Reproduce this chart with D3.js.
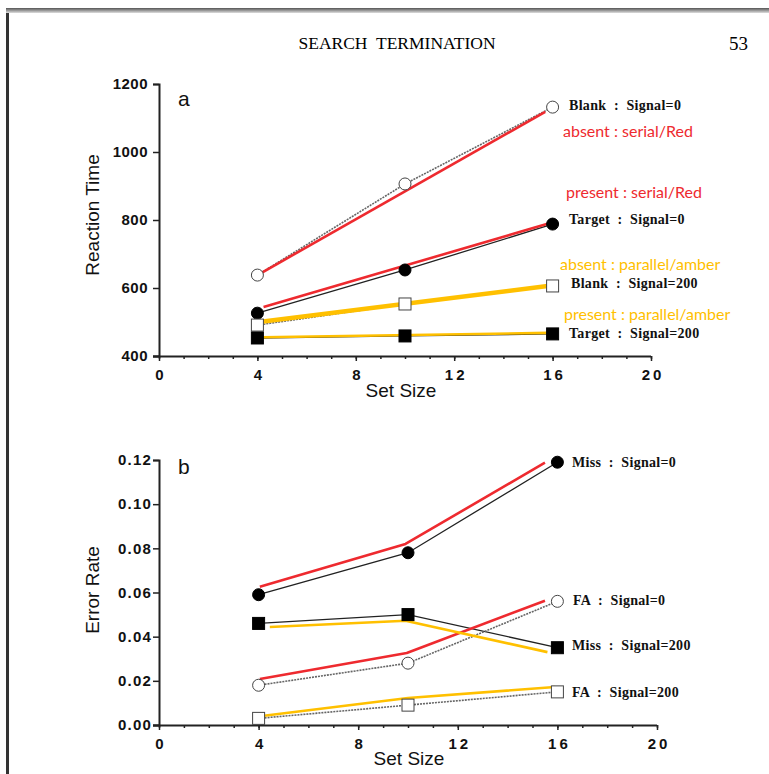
<!DOCTYPE html>
<html>
<head>
<meta charset="utf-8">
<script src="https://cdn.jsdelivr.net/npm/d3@7"></script>
<style>
  html, body { margin: 0; padding: 0; background: #fff; }
  svg { display: block; }
  text { white-space: pre; }
</style>
</head>
<body>
<svg id="chart" width="769" height="774"></svg>
<script>
// ---------- DATA ----------
const setSizes = [4, 10, 16];
const xTicks = [0, 4, 8, 12, 16, 20];

// Panel a: reaction time
const rtTicks = [400, 600, 800, 1000, 1200];
const rtBlank0 = [638, 906, 1132];
const rtTarget0 = [526, 653, 788];
const rtBlank200 = [491, 553, 606];
const rtTarget200 = [453, 459, 465];

// Panel a: hand-drawn model overlays
const rtSerialAbsentX = [4.15, 15.7], rtSerialAbsentY = [644, 1118];
const rtSerialPresentX = [4.25, 15.9], rtSerialPresentY = [544, 791];
const rtParallelAbsentX = [4.07, 15.8], rtParallelAbsentY = [500, 606];
const rtParallelPresentX = [4.2, 15.8], rtParallelPresentY = [455, 468];

// Panel b: error rate
const erTicks = [0.00, 0.02, 0.04, 0.06, 0.08, 0.10, 0.12];
const erMiss0 = [0.059, 0.078, 0.119];
const erMiss200 = [0.046, 0.050, 0.035];
const erFA0 = [0.018, 0.028, 0.056];
const erFA200 = [0.003, 0.009, 0.015];

// Panel b: hand-drawn model overlays
const erSerialMissX = [4.05, 9.9, 15.5], erSerialMissY = [0.0626, 0.082, 0.1188];
const erSerialFAX = [4.05, 9.95, 15.5], erSerialFAY = [0.0208, 0.0326, 0.0563];
const erParallelMissX = [4.45, 9.9, 15.6], erParallelMissY = [0.0444, 0.0472, 0.033];
const erParallelFAX = [4.05, 10.0, 15.9], erParallelFAY = [0.004, 0.0122, 0.0172];

// Labels
const rtLabels = ["Blank  :  Signal=0", "Target  :  Signal=0", "Blank  :  Signal=200", "Target  :  Signal=200"];
const rtNotes = ["absent : serial/Red", "present : serial/Red", "absent : parallel/amber", "present : parallel/amber"];
const erLabels = ["Miss  :  Signal=0", "FA  :  Signal=0", "Miss  :  Signal=200", "FA  :  Signal=200"];

// ---------- DRAW ----------
const svg = d3.select("#chart");
const RED = "#ee2a2f", AMBER = "#ffc000";

// page frame
svg.append("rect").attr("x", 6).attr("y", 8).attr("width", 3).attr("height", 766).attr("fill", "#333");
const grad = svg.append("defs").append("linearGradient").attr("id", "topg").attr("x1", 0).attr("y1", 0).attr("x2", 0).attr("y2", 1);
grad.append("stop").attr("offset", "0%").attr("stop-color", "#555");
grad.append("stop").attr("offset", "100%").attr("stop-color", "#ddd");
svg.append("rect").attr("x", 6).attr("y", 8).attr("width", 763).attr("height", 5).attr("fill", "url(#topg)");

svg.append("text").attr("x", 397).attr("y", 49).attr("text-anchor", "middle")
  .attr("font-family", "Liberation Serif, Times New Roman, serif").attr("font-size", 17.5)
  .text("SEARCH  TERMINATION");
svg.append("text").attr("x", 748).attr("y", 50).attr("text-anchor", "end")
  .attr("font-family", "Liberation Serif, Times New Roman, serif").attr("font-size", 19)
  .text("53");

function panel(cfg) {
  const g = svg.append("g");
  const x = d3.scaleLinear().domain([0, 20]).range([159, cfg.xEnd]);
  const y = d3.scaleLinear().domain(cfg.yDomain).range(cfg.yRange);

  // axes
  const xAxis = g.append("g").attr("transform", `translate(0,${cfg.yRange[0]})`)
    .call(d3.axisBottom(x).tickValues(xTicks).tickSize(5).tickFormat(d3.format("d")));
  const xMinor = g.append("g").attr("transform", `translate(0,${cfg.yRange[0]})`)
    .call(d3.axisBottom(x).tickValues(d3.range(0, 21)).tickSize(3).tickFormat(""));
  const yAxis = g.append("g").attr("transform", `translate(159,0)`)
    .call(d3.axisLeft(y).tickValues(cfg.yTicks).tickSize(6).tickFormat(cfg.yFmt));
  [xAxis, xMinor, yAxis].forEach(a => {
    a.select(".domain").attr("stroke", "#222").attr("stroke-width", 2);
    a.selectAll(".tick line").attr("stroke", "#222").attr("stroke-width", 1.5);
  });
  xMinor.select(".domain").remove();
  xAxis.select(".domain").attr("d", `M153,0.5H${cfg.xEnd}`);
  xAxis.selectAll(".tick text").attr("font-family", "Liberation Sans, Arial, sans-serif")
    .attr("font-weight", "bold").attr("font-size", 15).attr("letter-spacing", "3px")
    .attr("fill", "#111").attr("dx", "1.5px").attr("y", cfg.xLabelDy);
  yAxis.selectAll(".tick text").attr("font-family", "Liberation Sans, Arial, sans-serif")
    .attr("font-weight", "bold").attr("font-size", 15).attr("letter-spacing", cfg.yLs)
    .attr("fill", "#111").attr("x", cfg.yLabelX);

  // axis titles
  g.append("text").attr("x", cfg.xTitleX).attr("y", cfg.xTitleY).attr("text-anchor", "middle")
    .attr("font-family", "Liberation Sans, Arial, sans-serif").attr("font-size", 19).attr("fill", "#111")
    .text("Set Size");
  g.append("text").attr("transform", `translate(99,${cfg.yTitleY}) rotate(-90)`).attr("text-anchor", "middle")
    .attr("font-family", "Liberation Sans, Arial, sans-serif").attr("font-size", 19).attr("fill", "#111")
    .text(cfg.yTitle);
  g.append("text").attr("x", 178).attr("y", cfg.letterY)
    .attr("font-family", "Liberation Sans, Arial, sans-serif").attr("font-size", 21).attr("fill", "#111")
    .text(cfg.letter);

  const line = d3.line().x(d => x(d[0])).y(d => y(d[1]));

  // data lines
  cfg.series.forEach(s => {
    g.append("path").datum(setSizes.map((v, i) => [v, s.values[i]]))
      .attr("d", line).attr("fill", "none")
      .attr("stroke", s.open ? "#666" : "#222")
      .attr("stroke-width", s.open ? 1.6 : 1.3)
      .attr("stroke-dasharray", s.open ? "2,1" : null);
  });

  // overlays
  cfg.overlays.forEach(o => {
    g.append("path").datum(o.xs.map((v, i) => [v, o.ys[i]]))
      .attr("d", line).attr("fill", "none").attr("stroke", o.color)
      .attr("stroke-width", o.w).attr("stroke-linejoin", "round");
  });

  // markers
  cfg.series.forEach(s => {
    setSizes.forEach((v, i) => {
      const cx = x(v), cy = y(s.values[i]);
      if (s.shape === "circle") {
        g.append("circle").attr("cx", cx).attr("cy", cy).attr("r", 6)
          .attr("fill", s.open ? "#fff" : "#000").attr("stroke", s.open ? "#444" : "#000").attr("stroke-width", 1);
      } else {
        g.append("rect").attr("x", cx - 6).attr("y", cy - 6).attr("width", 12).attr("height", 12)
          .attr("fill", s.open ? "#fff" : "#000").attr("stroke", s.open ? "#444" : "#000").attr("stroke-width", 1);
      }
    });
  });

  // series labels
  cfg.labels.forEach(l => {
    g.append("text").attr("x", l.x).attr("y", l.y)
      .attr("font-family", "Liberation Serif, Times New Roman, serif").attr("font-weight", "bold")
      .attr("font-size", 14).attr("letter-spacing", "0.3px").attr("fill", "#111").text(l.t);
  });
  (cfg.notes || []).forEach(n => {
    g.append("text").attr("x", n.x).attr("y", n.y)
      .attr("font-family", "Lato, Open Sans, sans-serif")
      .attr("font-size", 16).attr("fill", n.c).text(n.t);
  });
}

panel({
  xEnd: 651, yDomain: [400, 1200], yRange: [356, 84], yTicks: rtTicks, yFmt: d3.format("d"),
  yLs: "0.5px", yLabelX: -11, xLabelDy: 13,
  xTitleX: 401, xTitleY: 397, yTitle: "Reaction Time", yTitleY: 215, letter: "a", letterY: 106,
  series: [
    { values: rtBlank0, shape: "circle", open: true },
    { values: rtTarget0, shape: "circle", open: false },
    { values: rtBlank200, shape: "square", open: true },
    { values: rtTarget200, shape: "square", open: false }
  ],
  overlays: [
    { xs: rtSerialAbsentX, ys: rtSerialAbsentY, color: RED, w: 2.6 },
    { xs: rtSerialPresentX, ys: rtSerialPresentY, color: RED, w: 2.6 },
    { xs: rtParallelAbsentX, ys: rtParallelAbsentY, color: AMBER, w: 4.5 },
    { xs: rtParallelPresentX, ys: rtParallelPresentY, color: AMBER, w: 2.6 }
  ],
  labels: [
    { x: 569, y: 110, t: rtLabels[0] },
    { x: 569, y: 224, t: rtLabels[1] },
    { x: 571, y: 288, t: rtLabels[2] },
    { x: 569, y: 338, t: rtLabels[3] }
  ],
  notes: [
    { x: 563, y: 137, t: rtNotes[0], c: RED },
    { x: 566, y: 198, t: rtNotes[1], c: RED },
    { x: 560, y: 270, t: rtNotes[2], c: AMBER },
    { x: 564, y: 320, t: rtNotes[3], c: AMBER }
  ]
});

panel({
  xEnd: 657, yDomain: [0, 0.12], yRange: [725, 460], yTicks: erTicks, yFmt: d3.format(".2f"),
  yLs: "1.2px", yLabelX: -7, xLabelDy: 13,
  xTitleX: 409, xTitleY: 765, yTitle: "Error Rate", yTitleY: 590, letter: "b", letterY: 474,
  series: [
    { values: erMiss0, shape: "circle", open: false },
    { values: erMiss200, shape: "square", open: false },
    { values: erFA0, shape: "circle", open: true },
    { values: erFA200, shape: "square", open: true }
  ],
  overlays: [
    { xs: erSerialMissX, ys: erSerialMissY, color: RED, w: 2.6 },
    { xs: erSerialFAX, ys: erSerialFAY, color: RED, w: 2.6 },
    { xs: erParallelMissX, ys: erParallelMissY, color: AMBER, w: 2.6 },
    { xs: erParallelFAX, ys: erParallelFAY, color: AMBER, w: 2.6 }
  ],
  labels: [
    { x: 572, y: 467, t: erLabels[0] },
    { x: 573, y: 605, t: erLabels[1] },
    { x: 572, y: 650, t: erLabels[2] },
    { x: 572, y: 697, t: erLabels[3] }
  ]
});
</script>
</body>
</html>
